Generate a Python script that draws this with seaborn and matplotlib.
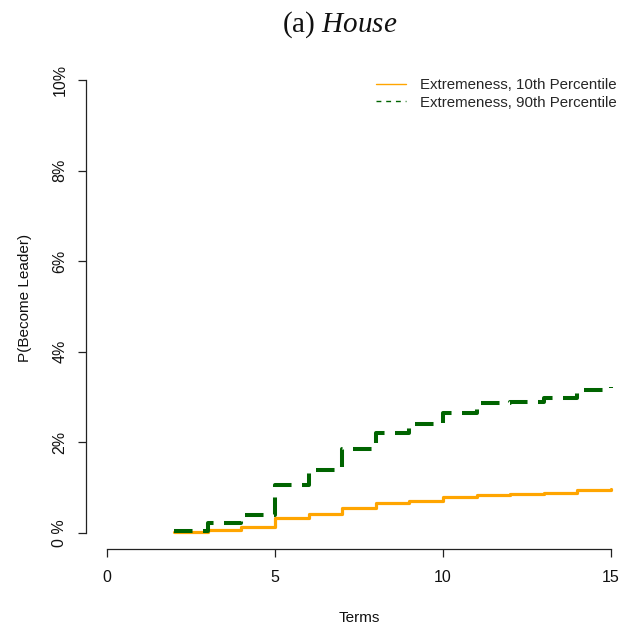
import numpy as np
import pandas as pd
import matplotlib
matplotlib.use("Agg")
import matplotlib.pyplot as plt
import seaborn as sns
from matplotlib.lines import Line2D

# Cumulative probability of becoming leader by number of terms served (percent)
terms = [2, 3, 4, 5, 6, 7, 8, 9, 10, 11, 12, 13, 14, 15]
p_low_extreme = [0.03, 0.07, 0.13, 0.34, 0.41, 0.56, 0.66, 0.71, 0.79, 0.85, 0.87, 0.89, 0.95, 0.97]
p_high_extreme = [0.04, 0.23, 0.40, 1.07, 1.38, 1.85, 2.20, 2.40, 2.64, 2.86, 2.90, 2.97, 3.16, 3.22]

series_names = ["Extremeness, 10th Percentile", "Extremeness, 90th Percentile"]
x_ticks = [0, 5, 10, 15]
y_ticks = [0, 2, 4, 6, 8, 10]
y_tick_labels = ["0 %", "2%", "4%", "6%", "8%", "10%"]

sns.set_theme(style="white")
plt.rcParams["font.family"] = ["Liberation Sans", "DejaVu Sans"]

fig = plt.figure(figsize=(6.24, 6.28), dpi=100)
ax = fig.add_axes([86 / 624, 1 - 549 / 628, 535 / 624, 482.6 / 628])

orange = "#FFA500"
green = "#006400"

sns.lineplot(x=terms, y=p_low_extreme, ax=ax, color=orange, linewidth=2.3,
             drawstyle="steps-post", legend=False)
sns.lineplot(x=terms, y=p_high_extreme, ax=ax, color=green, linewidth=2.9,
             drawstyle="steps-post", legend=False, dashes=False)
ax.lines[-1].set_dashes((4.6, 2.6))

ax.set_xlim(-0.625, 15.3)
ax.set_ylim(-0.353, 10.3)

for side in ["top", "right"]:
    ax.spines[side].set_visible(False)
for side in ["left", "bottom"]:
    ax.spines[side].set_color("#222222")
    ax.spines[side].set_linewidth(0.9)
ax.spines["left"].set_bounds(0, 10)
ax.spines["bottom"].set_bounds(0, 15)

ax.set_xticks(x_ticks)
ax.set_xticklabels([str(t) for t in x_ticks])
ax.set_yticks(y_ticks)
ax.set_yticklabels(y_tick_labels, rotation=90, va="center")
ax.tick_params(axis="both", which="major", direction="out", length=5.5, width=0.9,
               color="#222222", labelsize=11.5, labelcolor="#111111",
               bottom=True, left=True, top=False, right=False)
ax.tick_params(axis="x", pad=9.5)
ax.tick_params(axis="y", pad=8)

ax.set_xlabel("Terms", fontsize=11, color="#111111")
ax.set_ylabel("P(Become Leader)", fontsize=11, color="#111111")
ax.xaxis.set_label_coords(0.510, -0.128)
ax.yaxis.set_label_coords(-0.101, 0.52)

handles = [
    Line2D([], [], color=orange, linewidth=1.0),
    Line2D([], [], color=green, linewidth=1.0, dashes=(3.5, 3.5)),
]
ax.legend(handles, series_names, loc="upper right", frameon=False, fontsize=10.8,
          handlelength=2.0, handletextpad=0.95, labelspacing=0.22,
          bbox_to_anchor=(1.012, 0.997), borderaxespad=0.3)

plt.rcParams["mathtext.fontset"] = "custom"
plt.rcParams["mathtext.rm"] = "Liberation Serif"
plt.rcParams["mathtext.it"] = "Liberation Serif:italic"
fig.text(340 / 624, 1 - 32 / 628, r"(a) $\mathit{House}$", fontsize=21,
         family="Liberation Serif", ha="center", va="baseline", color="#111111")

fig.savefig("out.png", dpi=100)
